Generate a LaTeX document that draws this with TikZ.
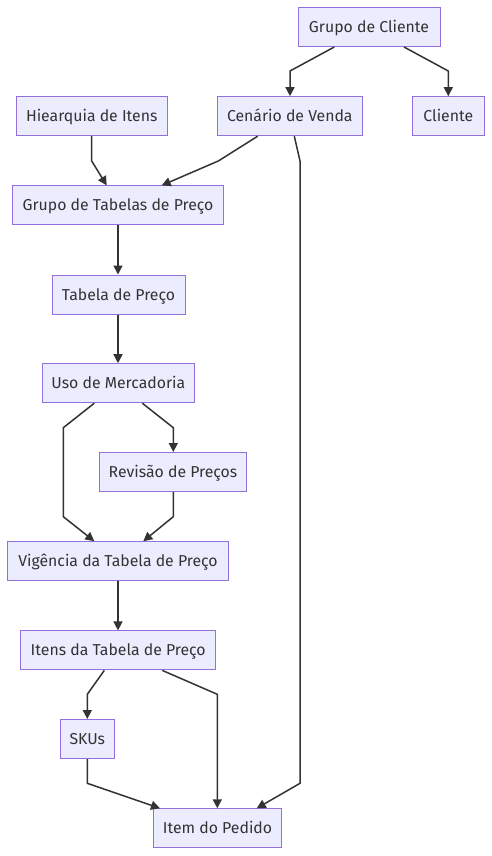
\documentclass[tikz,border=0pt]{standalone}
\usepackage{fontspec}
\setmainfont{Fira Sans}
\usetikzlibrary{arrows.meta}
\definecolor{nfill}{HTML}{ECECFF}
\definecolor{nborder}{HTML}{9370DB}
\definecolor{ink}{HTML}{333333}
\begin{document}
\begin{tikzpicture}[x=1pt,y=-1pt,
  box/.style={draw=nborder,fill=nfill,line width=1pt,minimum height=39pt,inner sep=0pt,
    text height=12.5pt,text depth=1.5pt,
    text=ink,font=\fontsize{15.8}{18}\selectfont},
  arr/.style={draw=ink,line width=1.5pt,-{Triangle[length=9pt,width=9pt]}}]
\fill[white] (0,0) rectangle (491,856);
\useasboundingbox (0,0) rectangle (491,856);
\node[box,minimum width=142pt] (gc) at (369,27) {Grupo de Cliente};
\node[box,minimum width=151pt] (hi) at (91.7,116.2) {Hiearquia de Itens};
\node[box,minimum width=145pt] (cv) at (289.8,116.2) {Cenário de Venda};
\node[box,minimum width=72pt] (cl) at (448.3,116.2) {Cliente};
\node[box,minimum width=211pt] (gt) at (118,205.4) {Grupo de Tabelas de Preço};
\node[box,minimum width=133pt] (tp) at (118.5,294.5) {Tabela de Preço};
\node[box,minimum width=152pt] (um) at (118.3,383.2) {Uso de Mercadoria};
\node[box,minimum width=147pt] (rp) at (173,472) {Revisão de Preços};
\node[box,minimum width=221pt] (vg) at (118,561.2) {Vigência da Tabela de Preço};
\node[box,minimum width=195pt] (it) at (118.2,650.4) {Itens da Tabela de Preço};
\node[box,minimum width=54pt] (sk) at (87.3,739) {SKUs};
\node[box,minimum width=128pt] (ip) at (217.5,828.3) {Item do Pedido};

\draw[arr] (gc.south -| 334.3,0) -- (290,71) -- (cv.north -| 290,0);
\draw[arr] (gc.south -| 404,0) -- (448.3,71) -- (cl.north -| 448.3,0);
\draw[arr] (hi.south -| 91.7,0) -- (91.7,161) -- (gt.north -| 106.7,0);
\draw[arr] (cv.south -| 257.7,0) -- (218.3,161) -- (gt.north -| 161.7,0);
\draw[arr] (cv.south -| 294.3,0) -- (300,161) -- (300,783.3) -- (ip.north -| 256.7,0);
\draw[arr] (gt.south -| 118,0) -- (tp.north -| 118,0);
\draw[arr] (tp.south -| 118,0) -- (um.north -| 118,0);
\draw[arr] (um.south -| 94.3,0) -- (63.3,427.7) -- (63.3,516.7) -- (vg.north -| 94.3,0);
\draw[arr] (um.south -| 142.3,0) -- (173.3,427.7) -- (rp.north -| 173.3,0);
\draw[arr] (rp.south -| 173.3,0) -- (173.3,516.7) -- (vg.north -| 143.3,0);
\draw[arr] (vg.south -| 118,0) -- (it.north -| 118,0);
\draw[arr] (it.south -| 104.3,0) -- (87.3,694.3) -- (sk.north -| 87.3,0);
\draw[arr] (it.south -| 162.3,0) -- (217.3,694.3) -- (ip.north -| 217.3,0);
\draw[arr] (sk.south -| 87.3,0) -- (87.3,783.3) -- (ip.north -| 160,0);
\end{tikzpicture}
\end{document}
